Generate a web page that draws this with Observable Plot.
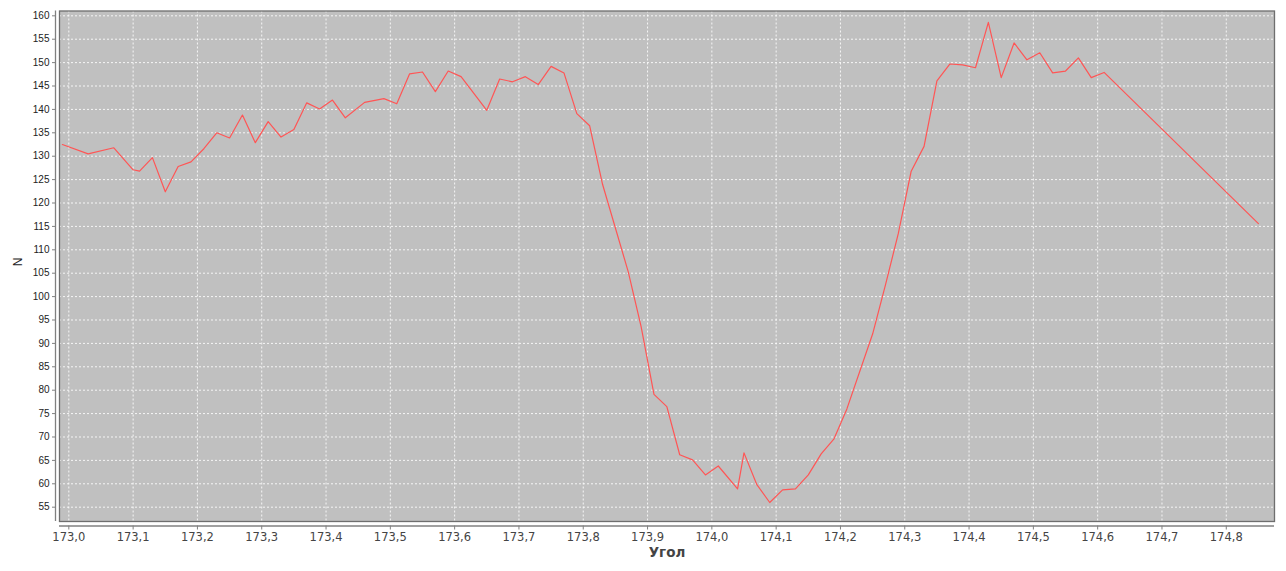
<!DOCTYPE html>
<html>
<head>
<meta charset="utf-8">
<script src="https://cdn.jsdelivr.net/npm/d3@7"></script>
<script src="https://cdn.jsdelivr.net/npm/@observablehq/plot@0.6"></script>
<style>
  html, body { margin: 0; padding: 0; background: #fff; }
  #chart svg { display: block; }
</style>
</head>
<body>
<div id="chart"></div>
<script>
// Angle values (Угол)
const angle = [
  172.99, 173.03, 173.07, 173.10, 173.11, 173.13, 173.15, 173.17, 173.19, 173.21,
  173.23, 173.25, 173.27, 173.29, 173.31, 173.33, 173.35, 173.37, 173.39, 173.41,
  173.43, 173.46, 173.49, 173.51, 173.53, 173.55, 173.57, 173.59, 173.61, 173.65,
  173.67, 173.69, 173.71, 173.73, 173.75, 173.77, 173.79, 173.81, 173.83, 173.87,
  173.89, 173.91, 173.93, 173.95, 173.97, 173.99, 174.01, 174.04, 174.05, 174.07,
  174.09, 174.11, 174.13, 174.15, 174.17, 174.19, 174.21, 174.25, 174.27, 174.29,
  174.31, 174.33, 174.35, 174.37, 174.39, 174.41, 174.43, 174.45, 174.47, 174.49,
  174.51, 174.53, 174.55, 174.57, 174.59, 174.61, 174.85
];
// Counts (N)
const counts = [
  132.5, 130.5, 131.8, 127.1, 126.8, 129.7, 122.4, 127.8, 128.8, 131.6,
  135.0, 133.9, 138.8, 132.9, 137.4, 134.1, 135.7, 141.4, 140.1, 142.0,
  138.2, 141.5, 142.3, 141.2, 147.6, 148.0, 143.8, 148.2, 147.0, 139.8,
  146.5, 145.9, 147.0, 145.3, 149.2, 147.8, 139.1, 136.5, 124.0, 105.3,
  93.6, 79.1, 76.5, 66.2, 65.1, 61.9, 63.8, 58.9, 66.6, 59.8,
  56.0, 58.7, 58.9, 61.9, 66.4, 69.6, 76.0, 92.0, 102.5, 113.5,
  126.8, 132.1, 146.1, 149.7, 149.5, 148.9, 158.6, 146.8, 154.2, 150.6,
  152.1, 147.8, 148.2, 151.0, 146.8, 147.9, 115.6
];
const xTicks = [173.0, 173.1, 173.2, 173.3, 173.4, 173.5, 173.6, 173.7, 173.8, 173.9,
                174.0, 174.1, 174.2, 174.3, 174.4, 174.5, 174.6, 174.7, 174.8];
const yTicks = [55, 60, 65, 70, 75, 80, 85, 90, 95, 100, 105, 110, 115, 120, 125, 130, 135, 140, 145, 150, 155, 160];

const data = angle.map((a, i) => ({angle: a, n: counts[i]}));
const xDomain = [172.9855, 174.875];
const yDomain = [51.94, 161.03];
const fmt = d => d.toFixed(1).replace(".", ",");

const chart = Plot.plot({
  width: 1286,
  height: 571,
  marginLeft: 59,
  marginRight: 12,
  marginTop: 10.5,
  marginBottom: 50,
  style: {background: "#ffffff", overflow: "visible"},
  x: {domain: xDomain, label: null},
  y: {domain: yDomain, label: null},
  marks: [
    Plot.frame({fill: "#c0c0c0", stroke: null}),
    Plot.gridX(xTicks, {stroke: "#ffffff", strokeOpacity: 0.85, strokeDasharray: "2,2", strokeWidth: 1}),
    Plot.gridY(yTicks, {stroke: "#ffffff", strokeOpacity: 0.85, strokeDasharray: "2,2", strokeWidth: 1}),
    Plot.line(data, {x: "angle", y: "n", stroke: "#ff5555", strokeWidth: 1.2}),
    Plot.frame({stroke: "#6e6e6e", strokeWidth: 1.3}),
    Plot.ruleY([yDomain[0]], {dy: 4.5, stroke: "#808080", strokeWidth: 1.3}),
    Plot.ruleX([xDomain[0]], {dx: -4, stroke: "#808080", strokeWidth: 1.3}),
    Plot.axisX(xTicks, {tickSize: 4, dy: 4.5, tickPadding: 3, tickFormat: fmt, fontSize: 11.5,
      fontFamily: "DejaVu Sans", fill: "#444", stroke: "#808080", label: null}),
    Plot.axisY(yTicks, {tickSize: 3, dx: -4, tickPadding: 3, fontSize: 10,
      fontFamily: "Liberation Sans", fill: "#222", stroke: "#808080", label: null}),
    Plot.text(["Угол"], {frameAnchor: "bottom", dy: 35, text: d => d, fontWeight: "bold",
      fontSize: 13.5, fontFamily: "DejaVu Sans", fill: "#444"}),
    Plot.text(["N"], {frameAnchor: "left", dx: -41, text: d => d, rotate: -90,
      fontSize: 12, fontFamily: "Liberation Sans", fill: "#222"})
  ]
});
document.getElementById("chart").appendChild(chart);
</script>
</body>
</html>
